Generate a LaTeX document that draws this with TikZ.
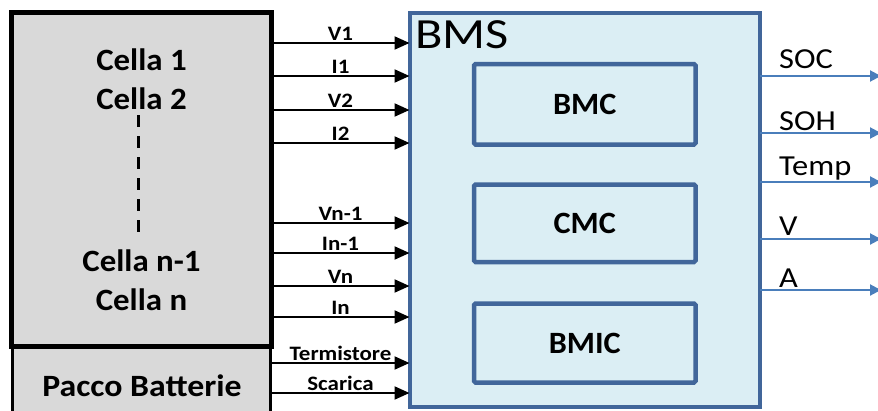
\documentclass[tikz,border=0pt]{standalone}
\usepackage{fontspec}
\usepackage{graphicx}
\setmainfont{Carlito}
\usetikzlibrary{arrows.meta}
\definecolor{bmsfill}{HTML}{DBEEF4}
\definecolor{bmsline}{HTML}{41669A}
\definecolor{outblue}{HTML}{4A7EBB}
\definecolor{cellgray}{HTML}{D9D9D9}
\newcommand{\hstretch}[2]{\scalebox{#1}[1]{#2}}
\begin{document}
\begin{tikzpicture}[x=1pt,y=-1pt,
  blockbox/.style={draw, inner sep=0pt, outer sep=0pt},
  cellbox/.style={blockbox, fill=cellgray, line width=5pt},
  bmsbox/.style={blockbox, draw=bmsline, fill=bmsfill, line width=4pt},
  subbox/.style={blockbox, draw=bmsline, fill=bmsfill, line width=4.5pt, rounded corners=1.5pt,
     font=\fontsize{31}{36}\selectfont\bfseries},
  celltxt/.style={inner sep=0pt, anchor=base, font=\fontsize{31}{36}\selectfont\bfseries},
  inarrow/.style={line width=2pt, -{Triangle[length=15pt,width=13pt]}},
  outarrow/.style={line width=2pt, draw=outblue, -{Triangle[length=11pt,width=11pt,fill=outblue]}},
  lbl/.style={inner sep=0pt, anchor=base, font=\fontsize{20.5}{24}\selectfont\bfseries},
  outlbl/.style={inner sep=0pt, anchor=base west, font=\fontsize{29}{34}\selectfont}]
\useasboundingbox (0,0) rectangle (878,410);

\node[cellbox, line width=2.5pt, minimum width=258pt, minimum height=70pt] (pacco) at (141.5,381.5) {};
\node[cellbox, minimum width=260pt, minimum height=334pt] (cells) at (141.5,179.5) {};
\node[celltxt] (pt) at (142,396.5) {\hstretch{1.09}{Pacco Batterie}};

\node[celltxt] (c1) at (141.5,70) {\hstretch{1.06}{Cella 1}};
\node[celltxt] (c2) at (141.5,109) {\hstretch{1.06}{Cella 2}};
\node[celltxt] (cn1) at (141.5,271.5) {\hstretch{1.06}{Cella n-1}};
\node[celltxt] (cn) at (141.5,310) {\hstretch{1.06}{Cella n}};
\coordinate (d1) at (138,115);
\coordinate (d2) at (138,237);
\draw[line width=3pt, dash pattern=on 12pt off 9pt] (d1) -- (d2);

\node[bmsbox, minimum width=350.5pt, minimum height=394.5pt] (bms) at (584.75,209.75) {};
\node[inner sep=0pt, anchor=base west, font=\fontsize{43}{48}\selectfont] (bmst) at (415,48) {\hstretch{1.17}{BMS}};
\node[subbox, minimum width=221.5pt, minimum height=80.5pt] (bmc) at (584.75,104.25) {\hstretch{1.04}{BMC}};
\node[subbox, minimum width=221.5pt, minimum height=77.5pt] (cmc) at (584.75,223.25) {\hstretch{1.04}{CMC}};
\node[subbox, minimum width=221.5pt, minimum height=79pt] (bmic) at (584.75,343) {\hstretch{1.04}{BMIC}};

\foreach \yy/\tt [count=\i] in {43/V1, 76/I1, 110/V2, 143/I2, 223/Vn-1, 253/In-1, 286/Vn, 317/In, 363/Termistore, 393/Scarica}{
  \coordinate (a\i) at (0,\yy);
  \draw[inarrow] (cells.east |- a\i) -- node[lbl, yshift=3pt] {\hstretch{1.12}{\tt}} (bms.west |- a\i);
}

\foreach \yy/\bb/\tt [count=\i] in {76/68/SOC, 133/130/SOH, 182/175/Temp, 239/235/V, 290/287/A}{
  \coordinate (o\i) at (881,\yy);
  \draw[outarrow] (bms.east |- o\i) -- (o\i);
  \node[outlbl] at (779,\bb) {\hstretch{1.12}{\tt}};
}
\end{tikzpicture}
\end{document}
